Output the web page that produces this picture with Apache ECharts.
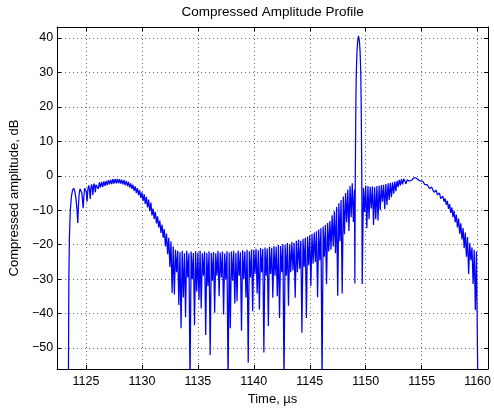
<!DOCTYPE html>
<html>
<head>
<meta charset="utf-8">
<script src="https://cdn.jsdelivr.net/npm/echarts@6/dist/echarts.min.js"></script>
<style>
 html,body{margin:0;padding:0;background:#fff}
 #chart{width:494px;height:412px}
</style>
</head>
<body>
<div id="chart"></div>
<script>
/* Compressed amplitude profile (dB vs µs) */

// leading edge: explicit samples (µs, dB)
var leadT=[1123.43,1123.47,1123.52,1123.6,1123.7,1123.8,1123.9,1124.0,1124.1,1124.2,1124.27,1124.33,1124.4,1124.47,
 1124.55,1124.63,1124.7,1124.75,1124.81,1124.88,1124.95,1125.02,1125.1,1125.17,1125.24,1125.31,1125.38,1125.44,
 1125.5,1125.56,1125.62,1125.67,1125.72,1125.78,1125.84,1125.9,1125.95];
var leadV=[-60,-30,-18,-10,-6,-4.2,-3.6,-4.5,-6.5,-10,-13.7,-8.5,-5,-3.8,
 -3.6,-5,-7.5,-9.4,-6,-3.6,-3.1,-4.5,-7.5,-4.0,-2.8,-4.0,-6.7,-3.6,
 -2.5,-3.5,-5.6,-3.2,-2.3,-3.1,-4.8,-2.6,-2.1];

// sidelobe floor: one sample every 0.1 µs from 1126.0 to 1149.0
var floorT0=1126.0, floorStep=0.1;
var floorV=[
 -2.2,-3.8,-1.9,-3.4,-1.8,-3.2,-1.6,-2.9,-1.5,-2.7,      // 1126
 -1.3,-2.5,-1.1,-2.4,-1.0,-2.3,-0.9,-2.2,-0.9,-2.2,      // 1127
 -1.0,-2.3,-1.1,-2.5,-1.3,-2.7,-1.5,-3.0,-1.8,-3.4,      // 1128
 -2.2,-3.8,-2.6,-4.4,-3.1,-5.0,-3.6,-5.6,-4.2,-6.4,      // 1129
 -4.8,-7.3,-5.4,-8.2,-6.1,-9.2,-6.9,-10.3,-7.8,-11.5,    // 1130
 -9.5,-12.5,-10.5,-13.8,-11.8,-15.0,-13.0,-16.6,-14.2,-18.0, // 1131
 -15.5,-20.5,-16.8,-22.8,-18.0,-26.5,-19.0,-34.0,-20.5,-34.5, // 1132
 -21.5,-28.0,-21.8,-37.5,-22.2,-44.3,-21.8,-35.3,-22.5,-41.1, // 1133
 -21.8,-29.5,-22.5,-60,-22.0,-30.0,-22.4,-43.4,-21.9,-33.6,   // 1134
 -22.3,-36.0,-21.8,-38.5,-22.5,-29.0,-22.0,-46.2,-22.4,-32.0, // 1135
 -21.9,-52.0,-22.4,-30.5,-22.1,-39.8,-22.5,-29.0,-21.8,-35.0, // 1136
 -22.3,-29.5,-22.0,-40.3,-22.6,-30.0,-21.9,-60,-22.3,-44.3,   // 1137
 -22.0,-30.5,-21.8,-37.1,-22.4,-36.4,-21.7,-29.0,-22.2,-45.0, // 1138
 -21.6,-30.0,-22.0,-35.3,-21.5,-54.3,-21.9,-29.5,-21.4,-39.3, // 1139
 -21.5,-28.5,-21.2,-34.2,-21.6,-38.8,-21.0,-28.0,-21.3,-51.3, // 1140
 -20.8,-29.0,-21.1,-43.6,-20.6,-28.5,-20.9,-35.4,-20.4,-29.0, // 1141
 -20.6,-35.0,-20.1,-41.3,-20.4,-28.0,-19.8,-60,-20.1,-29.0,   // 1142
 -19.5,-37.7,-19.8,-28.0,-19.2,-27.5,-19.5,-35.4,-18.9,-28.0, // 1143
 -18.6,-27.0,-18.9,-45.6,-18.3,-26.5,-18.0,-41.3,-17.6,-26.0, // 1144
 -17.3,-32.0,-16.9,-25.5,-16.5,-25.0,-16.1,-35.3,-15.6,-24.5, // 1145
 -15.2,-60,-14.7,-23.5,-14.2,-31.5,-13.7,-22.0,-13.1,-21.5,   // 1146
 -11.5,-20.5,-10.3,-22.5,-9.1,-34.8,-8.0,-19.0,-7.0,-34.2,    // 1147
 -6.0,-17.0,-5.0,-13.5,-4.0,-16.0,-3.0,-12.0,-2.2,-13.4,      // 1148
 -4.0                                                          // 1149.0
];

// main lobe
var lobeT=[1149.03,1149.07,1149.095,1149.12,1149.16,1149.22,1149.28,1149.36,1149.44,1149.50,1149.56,1149.60,1149.625,1149.65,1149.69];
var lobeV=[-31.3,0,10,20,30,36,39,40.6,39,36,30,20,10,0,-31.4];

// trailing hump: one sample every 0.1 µs from 1149.8 to 1160.0
var tailT0=1149.8, tailStep=0.1;
var tailV=[
 -3.5,-10.5,                                                   // 1149.8
 -2.8,-15.2,-3.0,-12.6,-3.2,-9.5,-3.1,-14.3,-3.3,-12.6,        // 1150
 -3.0,-13.0,-2.9,-10.0,-2.7,-7.5,-2.6,-9.7,-2.4,-8.5,          // 1151
 -2.2,-7.0,-2.0,-6.2,-1.9,-5.2,-1.7,-4.5,-1.5,-3.2,            // 1152
 -1.2,-2.8,-1.0,-2.5,-0.9,-1.6,-2.3,-1.2,-0.8,-1.5,            // 1153
 -2.0,-1.3,-0.8,-0.6,-0.5,-0.6,-0.8,-1.2,-1.1,-1.5,            // 1154
 -1.9,-1.6,-1.9,-2.6,-3.0,-2.6,-2.9,-3.7,-3.9,-3.3,            // 1155
 -3.8,-4.8,-4.5,-4.2,-5.5,-5.8,-5.0,-6.6,-6.8,-5.9,            // 1156
 -7.5,-6.6,-8.4,-7.3,-9.6,-8.2,-10.8,-9.2,-12.0,-10.2,         // 1157
 -13.5,-11.3,-15.0,-12.4,-16.8,-13.8,-18.5,-15.2,-21.0,-16.5,  // 1158
 -23.5,-17.8,-28.5,-19.5,-24.5,-20.8,-31.4,-21.5,-39.0,-22.0,  // 1159
 -22.3                                                          // 1160.0
];

// trailing edge
var endT=[1160.02], endV=[-60];

// axis extents and labels
var X_MIN=1122.42, X_MAX=1160.93;
var Y_MIN=-56.1, Y_MAX=43.2;
var TITLE='Compressed Amplitude Profile';
var X_NAME='Time, \u00b5s';
var Y_NAME='Compressed amplitude, dB';

var pts=[];
leadT.forEach(function(t,i){pts.push([t,leadV[i]]);});
floorV.forEach(function(v,i){pts.push([+(floorT0+i*floorStep).toFixed(2),v]);});
lobeT.forEach(function(t,i){pts.push([t,lobeV[i]]);});
tailV.forEach(function(v,i){pts.push([+(tailT0+i*tailStep).toFixed(2),v]);});
endT.forEach(function(t,i){pts.push([t,endV[i]]);});

var FONT='"Liberation Sans", Arial, Helvetica, sans-serif';
var minus=function(v){return String(v).replace('-','\u2212');};
var frame={show:true,onZero:false,lineStyle:{color:'#000',width:1}};
var tick={show:true,inside:true,length:4,lineStyle:{color:'#000',width:1}};
var dots={show:true,lineStyle:{color:'#666',width:1,type:[1,3]}};
var lbl={color:'#000',fontFamily:FONT,fontSize:12.5,showMinLabel:false,showMaxLabel:false,formatter:minus};
var nameStyle={color:'#000',fontFamily:FONT,fontSize:13};

var chart=echarts.init(document.getElementById('chart'),null,{renderer:'canvas'});
chart.setOption({
 animation:false,
 backgroundColor:'#fff',
 grid:{left:56,right:1,top:24,bottom:43,containLabel:false},
 xAxis:[
  {type:'value',position:'bottom',min:X_MIN,max:X_MAX,splitNumber:8,
   axisLine:frame,axisTick:tick,axisLabel:Object.assign({margin:6},lbl),splitLine:dots,
   name:X_NAME,nameLocation:'middle',nameGap:20,nameTextStyle:nameStyle},
  {type:'value',position:'top',min:X_MIN,max:X_MAX,splitNumber:8,
   axisLine:frame,axisTick:tick,axisLabel:{show:false},splitLine:{show:false},
   name:TITLE,nameLocation:'middle',nameGap:8,nameTextStyle:Object.assign({},nameStyle,{fontSize:13.5})}
 ],
 yAxis:[
  {type:'value',position:'left',min:Y_MIN,max:Y_MAX,splitNumber:10,
   axisLine:frame,axisTick:tick,axisLabel:Object.assign({margin:4},lbl),splitLine:dots,
   name:Y_NAME,nameLocation:'middle',nameGap:33,nameTextStyle:nameStyle},
  {type:'value',position:'right',min:Y_MIN,max:Y_MAX,splitNumber:10,
   axisLine:frame,axisTick:tick,axisLabel:{show:false},splitLine:{show:false}}
 ],
 series:[{
  type:'line',xAxisIndex:0,yAxisIndex:0,data:pts,
  showSymbol:false,symbol:'none',sampling:null,clip:true,
  lineStyle:{color:'#0000ff',width:1.25},
  emphasis:{disabled:true}
 }]
});
</script>
</body>
</html>
